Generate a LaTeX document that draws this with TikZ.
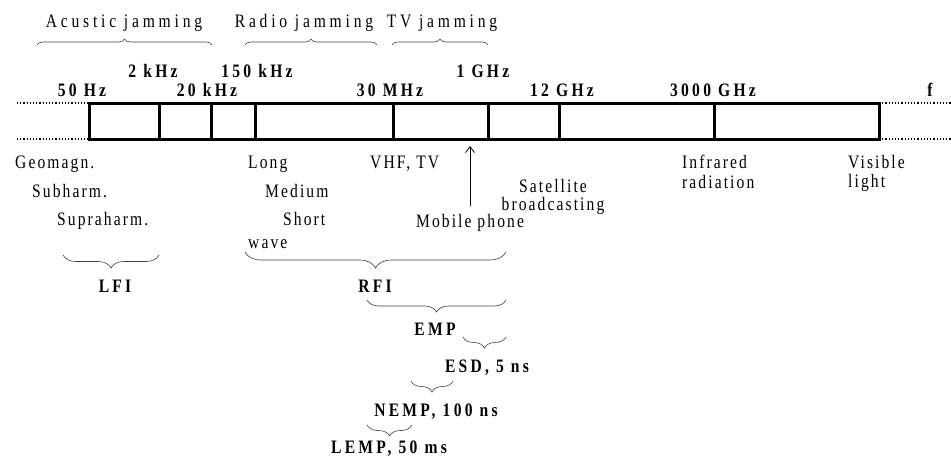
\documentclass[tikz,border=0pt]{standalone}
\usepackage{fontspec}
\setmainfont{Liberation Serif}[FakeStretch=0.82, LetterSpace=11, BoldFeatures={LetterSpace=17}]
\usetikzlibrary{decorations.pathreplacing,arrows.meta}
\tikzset{
  lbl/.style={font=\fontsize{19}{21}\selectfont, inner sep=0pt, anchor=base},
  lbll/.style={lbl, anchor=base west},
  tlbl/.style={font=\fontsize{19}{21}\selectfont\addfontfeature{LetterSpace=20}, inner sep=0pt, anchor=base},
  blbl/.style={font=\fontsize{19}{21}\selectfont\bfseries, inner sep=0pt, anchor=base},
  barline/.style={line width=3pt},
  dots/.style={dotted, line width=1.2pt},
  upbrace/.style={decorate, decoration={brace, amplitude=6pt}, line width=0.6pt, black!75},
  dnbrace/.style={decorate, decoration={brace, mirror, amplitude=#1}, line width=0.6pt, black!75},
}
\begin{document}
\begin{tikzpicture}[x=1pt,y=-1pt]
\useasboundingbox (0,0) rectangle (951,464);
% bar
\coordinate (bl) at (89,103);
\coordinate (br) at (879,139);
\draw[barline] (bl) rectangle (br);
\foreach \xx [count=\i] in {159,211,255,393,488,559,714}
  \draw[barline] (\xx,103) -- (\xx,139);
\coordinate (dlt) at (17,103); \coordinate (dlb) at (17,139);
\coordinate (drt) at (951,103); \coordinate (drb) at (951,139);
\draw[dots] (dlt) -- (89,103);
\draw[dots] (dlb) -- (89,139);
\draw[dots] (879,103) -- (drt);
\draw[dots] (879,139) -- (drb);
% top braces and labels
\node[tlbl] (acu) at (124,27) {Acustic jamming};
\node[tlbl] (rad) at (304,27) {Radio jamming};
\node[tlbl] (tvj) at (442,27) {TV jamming};
\draw[upbrace] (37,45) -- (212,45);
\draw[upbrace] (245,45) -- (377,45);
\draw[upbrace] (392,45) -- (488,45);
% frequencies
\node[blbl] (f2k) at (153,77) {2 kHz};
\node[blbl] (f150k) at (257,77) {150 kHz};
\node[blbl] (f1g) at (483,77) {1 GHz};
\node[blbl] (f50) at (82,96) {50 Hz};
\node[blbl] (f20k) at (207,96) {20 kHz};
\node[blbl] (f30m) at (390,96) {30 MHz};
\node[blbl] (f12g) at (562,96) {12 GHz};
\node[blbl] (f3000g) at (713,96) {3000 GHz};
\node[blbl] (ff) at (930,96) {f};
% lower labels
\node[lbll] (geo) at (15,168) {Geomagn.};
\node[lbll] (sub) at (32,197) {Subharm.};
\node[lbll] (sup) at (57,225) {Supraharm.};
\node[lbll] (long) at (248,168) {Long};
\node[lbll] (med) at (265,197) {Medium};
\node[lbll] (short) at (283,225) {Short};
\node[lbll] (wave) at (248,248) {wave};
\node[lbll] (vhf) at (370,168) {VHF, TV};
\node[lbl] (sat) at (553,192) {Satellite};
\node[lbl] (brd) at (553,210) {broadcasting};
\node[lbll] (inf) at (682,168) {Infrared};
\node[lbll] (radn) at (682,188) {radiation};
\node[lbll] (vis) at (848,168) {Visible};
\node[lbll] (lig) at (848,187) {light};
\node[lbl] (mob) at (470,227) {Mobile phone};
\coordinate (mobtop) at (470,146);
\draw[line width=0.8pt, -{Straight Barb[length=6pt,width=9pt]}] (470,206) -- (mobtop);
% lower braces
\draw[dnbrace=13pt] (63,255) -- (159,255);
\node[blbl] (lfi) at (115,292) {LFI};
\draw[dnbrace=16pt] (245,252) -- (506,252);
\node[blbl] (rfi) at (375,292) {RFI};
\draw[dnbrace=12pt] (367,300) -- (506,300);
\node[blbl] (emp) at (435,335) {EMP};
\draw[dnbrace=11pt] (463,337) -- (506,337);
\node[blbl] (esd) at (487,372) {ESD, 5 ns};
\draw[dnbrace=11pt] (411,381) -- (453,381);
\node[blbl] (nemp) at (436,416) {NEMP, 100 ns};
\draw[dnbrace=11pt] (367,425) -- (412,425);
\node[blbl] (lemp) at (389,453) {LEMP, 50 ms};
\end{tikzpicture}
\end{document}
